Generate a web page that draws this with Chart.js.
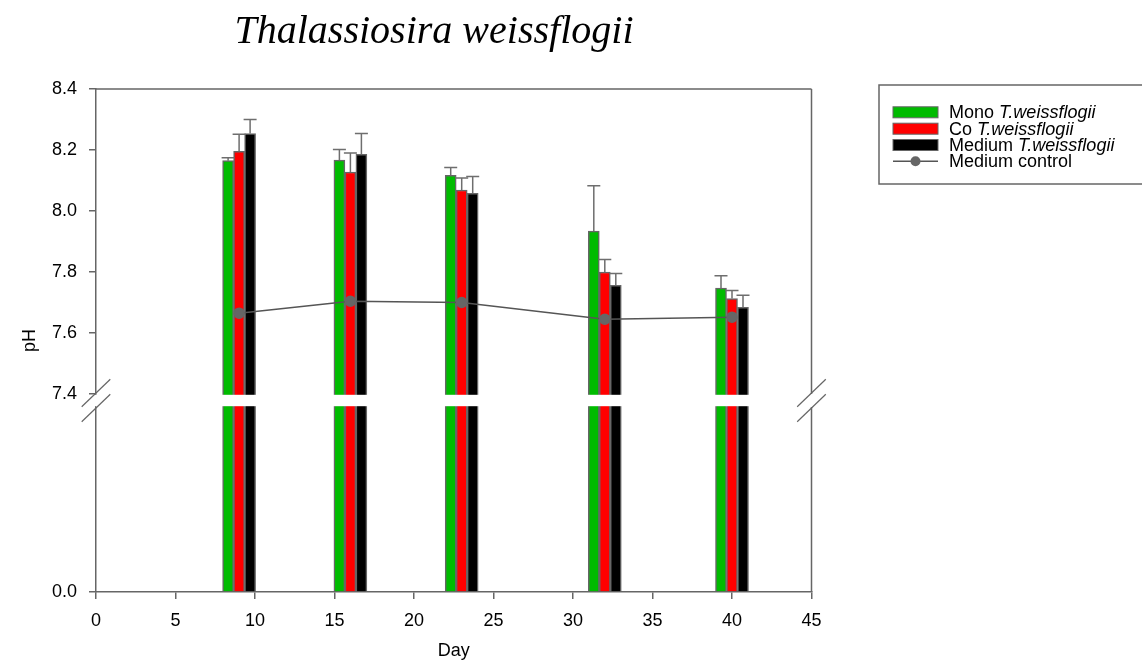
<!DOCTYPE html>
<html lang="en">
<head>
<meta charset="UTF-8" />
<title>Thalassiosira weissflogii pH</title>
<script src="https://cdn.jsdelivr.net/npm/chart.js"></script>
<style>
  body { margin: 0; background: #fff; }
</style>
</head>
<body>
<canvas id="phChart" width="1142" height="670"></canvas>

<script>
  // sampling days and mean pH per treatment (+ upper error)
  const days = [9, 16, 23, 32, 40];
  const monoPH = [8.165, 8.167, 8.117, 7.934, 7.747];
  const monoErr = [0.010, 0.035, 0.026, 0.149, 0.041];
  const coPH = [8.196, 8.128, 8.069, 7.800, 7.713];
  const coErr = [0.056, 0.062, 0.039, 0.041, 0.026];
  const mediumPH = [8.254, 8.186, 8.058, 7.756, 7.684];
  const mediumErr = [0.046, 0.068, 0.055, 0.039, 0.040];
  const controlPH = [7.665, 7.704, 7.700, 7.645, 7.652];

  const seriesNames = ['Mono', 'Co', 'Medium'];
  const species = 'T.weissflogii';
  const controlName = 'Medium control';
  const yTicks = [0, 7.4, 7.6, 7.8, 8.0, 8.2, 8.4];
  const xTicks = [0, 5, 10, 15, 20, 25, 30, 35, 40, 45];

  const breakLow = 7.4;   // y-axis is cut below this value
  const lowerShare = 185 / 503;  // part of the plot height given to 0..7.4
  const gapShare = 13 / 503;     // blank band between the two panels

  const AXIS = '#666666';
  const FONT = 'Liberation Sans, Arial, sans-serif';
  const TEXT_SIZE = 18;

  // y scale with a break: 0..7.4 squeezed at the bottom, 7.4..8.4 above the gap
  class BrokenScale extends Chart.LinearScale {
    buildTicks() {
      return yTicks.map(v => ({ value: v }));
    }
    getPixelForValue(v) {
      const h = this.bottom - this.top;
      if (v < breakLow) {
        return this.bottom - (v / breakLow) * lowerShare * h;
      }
      const upper = h * (1 - lowerShare - gapShare);
      return this.bottom - (lowerShare + gapShare) * h - ((v - breakLow) / (this.max - breakLow)) * upper;
    }
    getValueForPixel(p) {
      const h = this.bottom - this.top;
      const lowTop = this.bottom - lowerShare * h;
      if (p >= lowTop) return (this.bottom - p) / (lowerShare * h) * breakLow;
      const upper = h * (1 - lowerShare - gapShare);
      const base = this.bottom - (lowerShare + gapShare) * h;
      return breakLow + (base - p) / upper * (this.max - breakLow);
    }
  }
  BrokenScale.id = 'broken';
  BrokenScale.defaults = Chart.LinearScale.defaults;
  Chart.register(BrokenScale);

  const toPoints = arr => days.map((d, i) => ({ x: d, y: arr[i] }));

  // error caps on top of each bar
  const errorBars = {
    id: 'errorBars',
    afterDatasetsDraw(chart) {
      const ctx = chart.ctx;
      const y = chart.scales.y;
      ctx.save();
      ctx.strokeStyle = '#6e6e6e';
      ctx.lineWidth = 1.5;
      chart.data.datasets.forEach((ds, di) => {
        if (!ds.errors) return;
        chart.getDatasetMeta(di).data.forEach((bar, i) => {
          const top = y.getPixelForValue(ds.data[i].y + ds.errors[i]);
          ctx.beginPath();
          ctx.moveTo(bar.x, bar.y);
          ctx.lineTo(bar.x, top);
          ctx.moveTo(bar.x - 6.5, top);
          ctx.lineTo(bar.x + 6.5, top);
          ctx.stroke();
        });
      });
      ctx.restore();
    }
  };

  // gap, frame, break marks, title and legend
  const decorations = {
    id: 'decorations',
    afterDraw(chart) {
      const ctx = chart.ctx;
      const { left, right, top, bottom } = chart.chartArea;
      const y = chart.scales.y;
      const gapTop = y.getPixelForValue(breakLow);
      const gapBottom = y.getPixelForValue(breakLow - 1e-9);

      ctx.save();
      ctx.fillStyle = '#fff';
      ctx.fillRect(left - 3, gapTop + 0.8, right - left + 6, gapBottom - gapTop - 1.6);

      ctx.strokeStyle = AXIS;
      ctx.lineWidth = 1.5;
      ctx.beginPath();
      ctx.moveTo(left, top);
      ctx.lineTo(right, top);
      ctx.moveTo(right, top);
      ctx.lineTo(right, gapTop);
      ctx.moveTo(right, gapBottom);
      ctx.lineTo(right, bottom);
      ctx.stroke();

      ctx.lineWidth = 1.2;
      [left, right].forEach(x => {
        [gapTop - 1, gapBottom + 1].forEach(yc => {
          ctx.beginPath();
          ctx.moveTo(x - 14.3, yc + 13.7);
          ctx.lineTo(x + 14.3, yc - 13.7);
          ctx.stroke();
        });
      });

      // title
      ctx.fillStyle = '#000';
      ctx.font = 'italic 40px "Liberation Serif", "Times New Roman", serif';
      ctx.textAlign = 'center';
      ctx.textBaseline = 'alphabetic';
      ctx.fillText('Thalassiosira weissflogii', 434, 43);

      // legend
      const lx = 879, ly = 85;
      ctx.strokeStyle = AXIS;
      ctx.lineWidth = 1.5;
      ctx.strokeRect(lx, ly, 300, 99);
      const rowY = [112.3, 128.7, 145, 161.3];
      ctx.textAlign = 'left';
      ctx.textBaseline = 'middle';
      chart.data.datasets.forEach(ds => {
        const ry = rowY[ds.legendRow];
        if (ds.type === 'line') {
          ctx.strokeStyle = ds.borderColor;
          ctx.lineWidth = 1.5;
          ctx.beginPath();
          ctx.moveTo(893, ry);
          ctx.lineTo(938, ry);
          ctx.stroke();
          ctx.fillStyle = ds.pointBackgroundColor;
          ctx.beginPath();
          ctx.arc(915.5, ry, 5, 0, Math.PI * 2);
          ctx.fill();
          ctx.fillStyle = '#000';
          ctx.font = TEXT_SIZE + 'px ' + FONT;
          ctx.fillText(controlName, 949, ry + 1);
        } else {
          ctx.fillStyle = ds.backgroundColor;
          ctx.fillRect(893, ry - 5.5, 45, 11);
          ctx.strokeStyle = AXIS;
          ctx.lineWidth = 1;
          ctx.strokeRect(893, ry - 5.5, 45, 11);
          ctx.fillStyle = '#000';
          ctx.font = TEXT_SIZE + 'px ' + FONT;
          const head = seriesNames[ds.legendRow] + ' ';
          ctx.fillText(head, 949, ry + 1);
          const w = ctx.measureText(head).width;
          ctx.font = 'italic ' + TEXT_SIZE + 'px ' + FONT;
          ctx.fillText(species, 949 + w, ry + 1);
        }
      });
      ctx.restore();
    }
  };

  const barStyle = {
    type: 'bar',
    borderColor: AXIS,
    borderWidth: 1.5,
    barThickness: 11,
    order: 1
  };

  new Chart(document.getElementById('phChart'), {
    data: {
      datasets: [
        { ...barStyle, label: seriesNames[0] + ' ' + species, data: toPoints(monoPH), errors: monoErr,
          backgroundColor: '#00bb00', legendRow: 0 },
        { ...barStyle, label: seriesNames[1] + ' ' + species, data: toPoints(coPH), errors: coErr,
          backgroundColor: '#ff0000', legendRow: 1 },
        { ...barStyle, label: seriesNames[2] + ' ' + species, data: toPoints(mediumPH), errors: mediumErr,
          backgroundColor: '#000000', legendRow: 2 },
        { type: 'line', label: controlName, data: toPoints(controlPH),
          borderColor: '#555555', borderWidth: 1.5, pointRadius: 5,
          pointBackgroundColor: '#666666', pointBorderColor: '#666666',
          tension: 0, order: 0, legendRow: 3 }
      ]
    },
    options: {
      responsive: false,
      animation: false,
      layout: { padding: { top: 89, right: 330.5, bottom: 0, left: 0 } },
      plugins: {
        legend: { display: false },
        tooltip: { enabled: false }
      },
      scales: {
        x: {
          type: 'linear',
          min: 0,
          max: 45,
          offset: false,
          afterBuildTicks: s => { s.ticks = xTicks.map(v => ({ value: v })); },
          ticks: { color: '#000', font: { family: FONT, size: TEXT_SIZE }, padding: 11, autoSkip: false },
          grid: { display: true, drawOnChartArea: false, offset: false, tickLength: 7, color: AXIS, lineWidth: 1.5 },
          border: { color: AXIS, width: 1.5 },
          title: { display: true, text: 'Day', color: '#000', font: { family: FONT, size: TEXT_SIZE },
                   padding: { top: 0, bottom: 8 } },
          afterFit: s => { s.height = 78; }
        },
        y: {
          type: 'broken',
          min: 0,
          max: 8.4,
          ticks: { color: '#000', font: { family: FONT, size: TEXT_SIZE }, padding: 12, autoSkip: false,
                   callback: v => v.toFixed(1) },
          grid: { display: true, drawOnChartArea: false, tickLength: 7, color: AXIS, lineWidth: 1.5 },
          border: { color: AXIS, width: 1.5 },
          title: { display: true, text: 'pH', color: '#000', font: { family: FONT, size: TEXT_SIZE },
                   padding: { top: 19, bottom: 0 } },
          afterFit: s => { s.width = 96; }
        }
      }
    },
    plugins: [errorBars, decorations]
  });
</script>
</body>
</html>
